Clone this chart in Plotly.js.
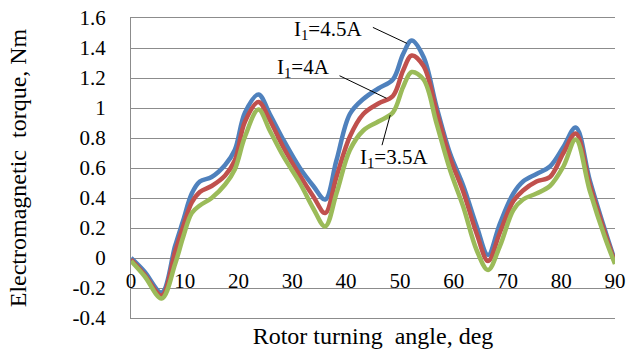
<!DOCTYPE html>
<html>
<head>
<meta charset="utf-8">
<script src="https://cdn.plot.ly/plotly-3.0.1.min.js"></script>
<style>html,body{margin:0;padding:0;background:#fff;}</style>
</head>
<body>
<div id="chart" style="width:641px;height:350px;"></div>
<script>
// Rotor turning angle, deg
const angle = [0, 2.5, 5.7, 8.2, 9.7, 11.3, 12.8, 15, 17.5, 19.3, 21.2, 23.7, 25.8, 28.3, 31.4, 33.9, 36.1, 38.2, 40.7, 43.2, 46, 48.7, 50.6, 52.2, 54.4, 56.8, 59.3, 61.8, 64.3, 66.4, 68.6, 71.1, 72.9, 75.4, 77.9, 80.4, 82.7, 85.3, 88.1, 90];
// Electromagnetic torque, Nm
const torque45 = [0, -0.09, -0.23, 0.08, 0.25, 0.43, 0.51, 0.54, 0.62, 0.72, 0.97, 1.09, 0.96, 0.79, 0.60, 0.48, 0.39, 0.65, 0.96, 1.06, 1.13, 1.19, 1.36, 1.45, 1.34, 1.01, 0.70, 0.48, 0.21, 0.02, 0.23, 0.43, 0.51, 0.56, 0.61, 0.74, 0.87, 0.52, 0.19, -0.02];
const torque40 = [-0.01, -0.11, -0.25, 0.04, 0.21, 0.37, 0.44, 0.48, 0.55, 0.65, 0.91, 1.04, 0.92, 0.74, 0.55, 0.41, 0.30, 0.54, 0.81, 0.96, 1.03, 1.08, 1.25, 1.35, 1.28, 0.98, 0.67, 0.44, 0.16, -0.02, 0.17, 0.38, 0.45, 0.51, 0.54, 0.70, 0.83, 0.49, 0.17, -0.03];
const torque35 = [-0.02, -0.12, -0.27, -0.04, 0.14, 0.30, 0.35, 0.40, 0.49, 0.59, 0.81, 0.99, 0.85, 0.68, 0.50, 0.33, 0.21, 0.43, 0.72, 0.85, 0.91, 0.97, 1.14, 1.24, 1.19, 0.90, 0.59, 0.34, 0.05, -0.08, 0.08, 0.32, 0.39, 0.43, 0.48, 0.61, 0.79, 0.45, 0.14, -0.04];

const seriesNames = ['I1=4.5A', 'I1=4A', 'I1=3.5A'];
const seriesColors = ['#4F81BD', '#C0504D', '#9BBB59'];

const xTickVals = [0, 10, 20, 30, 40, 50, 60, 70, 80, 90];
const xTickText = ['0', '10', '20', '30', '40', '50', '60', '70', '80', '90'];
const yTickVals = [-0.4, -0.2, 0, 0.2, 0.4, 0.6, 0.8, 1, 1.2, 1.4, 1.6];
const yTickText = ['-0.4', '-0.2', '0', '0.2', '0.4', '0.6', '0.8', '1', '1.2', '1.4', '1.6'];

const labelText = ['I<sub>1</sub>=4.5A', 'I<sub>1</sub>=4A', 'I<sub>1</sub>=3.5A'];
const labelPos = [[29.9, 1.52], [26.8, 1.27], [42.2, 0.67]];
const leaderFrom = [[44.7, 1.542], [38.5, 1.22], [46.6, 0.742]];
const leaderTo = [[51.3, 1.431], [47.5, 1.065], [48.2, 0.953]];

const FONT = 'Liberation Serif, Times New Roman, serif';
const ys = [torque45, torque40, torque35];
const traces = ys.map((y, i) => ({
  type: 'scatter', mode: 'lines', x: angle, y: y, name: seriesNames[i],
  line: {color: seriesColors[i], width: 4.5, shape: 'spline', smoothing: 1}
}));
// empty carrier trace so that the tick-label axis (x2) is drawn
traces.push({type: 'scatter', mode: 'lines', x: angle, y: angle.map(() => null),
  xaxis: 'x2', yaxis: 'y', showlegend: false, hoverinfo: 'skip', line: {width: 0}});

const annotations = [];
for (let i = 0; i < 3; i++) {
  annotations.push({
    x: labelPos[i][0], y: labelPos[i][1], xref: 'x', yref: 'y',
    text: labelText[i], showarrow: false, xanchor: 'left', yanchor: 'middle',
    font: {family: FONT, size: 21, color: '#000'}
  });
  annotations.push({
    x: leaderTo[i][0], y: leaderTo[i][1], xref: 'x', yref: 'y',
    ax: leaderFrom[i][0], ay: leaderFrom[i][1], axref: 'x', ayref: 'y',
    text: '', showarrow: true, arrowhead: 0, arrowwidth: 1, arrowcolor: '#000'
  });
}

const layout = {
  width: 641, height: 350,
  margin: {l: 131, r: 26, t: 18, b: 32, pad: 0},
  paper_bgcolor: '#fff', plot_bgcolor: '#fff',
  showlegend: false,
  font: {family: FONT, size: 21, color: '#000'},
  xaxis: {
    range: [0, 90], tickmode: 'array', tickvals: xTickVals, ticktext: xTickText,
    ticks: '', showgrid: false, zeroline: false, showticklabels: false,
    showline: true, mirror: true, linecolor: '#8c8c8c', linewidth: 1,
    title: {text: 'Rotor turning  angle, deg', font: {family: FONT, size: 24, color: '#000'}, standoff: 9}
  },
  xaxis2: {
    range: [0, 90], overlaying: 'x', anchor: 'free', position: 0.173, side: 'bottom',
    tickmode: 'array', tickvals: xTickVals, ticktext: xTickText,
    ticks: '', showgrid: false, zeroline: false, showline: false,
    tickfont: {family: FONT, size: 21, color: '#000'}
  },
  yaxis: {
    range: [-0.4, 1.6], tickmode: 'array', tickvals: yTickVals, ticktext: yTickText,
    ticks: '', showgrid: true, gridcolor: '#8c8c8c', gridwidth: 1, zeroline: false,
    showline: true, linecolor: '#8c8c8c', linewidth: 1,
    tickfont: {family: FONT, size: 21, color: '#000'},
    ticklabelstandoff: 20,
    title: {text: 'Electromagnetic  torque, Nm', font: {family: FONT, size: 24, color: '#000'}, standoff: 39}
  },
  annotations: annotations
};

Plotly.newPlot('chart', traces, layout, {staticPlot: true, displayModeBar: false});
</script>
</body>
</html>
